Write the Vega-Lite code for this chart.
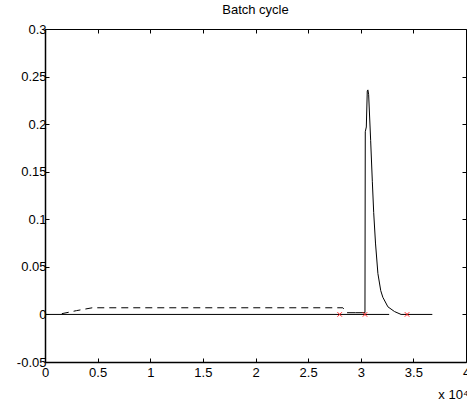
{
  "$schema": "https://vega.github.io/schema/vega-lite/v6.json",
  "width": 421,
  "height": 333,
  "autosize": "none",
  "padding": {"left": 45, "top": 29, "right": 1, "bottom": 41},
  "background": "white",
  "config": {
    "font": "Liberation Sans",
    "view": {"stroke": null},
    "axis": {
      "grid": false,
      "labelFont": "Liberation Sans",
      "labelFontSize": 13,
      "labelColor": "black",
      "domainColor": "black",
      "tickColor": "black",
      "tickSize": -4,
      "domainWidth": 1,
      "tickWidth": 1
    }
  },
  "title": {
    "text": "Batch cycle",
    "fontSize": 13,
    "fontWeight": "normal",
    "font": "Liberation Sans",
    "color": "black",
    "offset": 6
  },
  "datasets": {
    "lines": [
      {"series": "base", "x": 0, "y": 0},
      {"series": "base", "x": 3.27, "y": 0},
      {"series": "dash", "x": 0.16, "y": 0.0008},
      {"series": "dash", "x": 0.3, "y": 0.004},
      {"series": "dash", "x": 0.45, "y": 0.007},
      {"series": "dash", "x": 2.83, "y": 0.007},
      {"series": "dash", "x": 2.86, "y": 0.003},
      {"series": "peak", "x": 2.87, "y": 0.0018},
      {"series": "peak", "x": 2.95, "y": 0.0018},
      {"series": "peak", "x": 3.04, "y": 0.0018},
      {"series": "peak", "x": 3.043, "y": 0.192},
      {"series": "peak", "x": 3.053, "y": 0.197},
      {"series": "peak", "x": 3.062, "y": 0.235},
      {"series": "peak", "x": 3.068, "y": 0.236},
      {"series": "peak", "x": 3.075, "y": 0.231},
      {"series": "peak", "x": 3.094, "y": 0.183},
      {"series": "peak", "x": 3.11, "y": 0.14},
      {"series": "peak", "x": 3.123, "y": 0.107},
      {"series": "peak", "x": 3.14, "y": 0.075},
      {"series": "peak", "x": 3.163, "y": 0.043},
      {"series": "peak", "x": 3.19, "y": 0.025},
      {"series": "peak", "x": 3.21, "y": 0.018},
      {"series": "peak", "x": 3.258, "y": 0.008},
      {"series": "peak", "x": 3.321, "y": 0.003},
      {"series": "peak", "x": 3.383, "y": 0.0},
      {"series": "peak", "x": 3.68, "y": 0.0}
    ],
    "marks": [
      {"x": 2.8, "y": 0},
      {"x": 3.04, "y": 0},
      {"x": 3.44, "y": 0}
    ]
  },
  "layer": [
    {
      "data": {"name": "lines"},
      "transform": [{"filter": "datum.series === 'base' || datum.series === 'peak'"}],
      "mark": {"type": "line", "color": "black", "strokeWidth": 1},
      "encoding": {
        "x": {"field": "x", "type": "quantitative", "scale": {"domain": [0, 4], "nice": false, "zero": false},
              "axis": {"orient": "bottom", "values": [0, 0.5, 1, 1.5, 2, 2.5, 3, 3.5, 4], "labelPadding": 8, "labelFlush": false, "format": "~g",
                       "domainWidth": 1.5,
                       "title": "x 10⁴", "titleFont": "Liberation Sans", "titleFontSize": 13, "titleFontWeight": "normal", "titleColor": "black",
                       "titleAnchor": "end", "titleAlign": "right", "titleX": 423, "titleY": 36, "titleBaseline": "alphabetic"}},
        "y": {"field": "y", "type": "quantitative", "scale": {"domain": [-0.05, 0.3], "nice": false, "zero": false},
              "axis": {"orient": "left", "values": [-0.05, 0, 0.05, 0.1, 0.15, 0.2, 0.25, 0.3], "labelPadding": 3, "labelFlush": false, "title": null,
                       "domainWidth": 1.5,
                       "labelExpr": "(datum.value < 0 ? '-' : '') + format(abs(datum.value), '~g')"}},
        "detail": {"field": "series"}
      }
    },
    {
      "data": {"name": "lines"},
      "transform": [{"filter": "datum.series === 'dash'"}],
      "mark": {"type": "line", "color": "black", "strokeWidth": 1, "strokeDash": [7, 5]},
      "encoding": {
        "x": {"field": "x", "type": "quantitative",
              "axis": {"orient": "top", "values": [0, 0.5, 1, 1.5, 2, 2.5, 3, 3.5, 4], "labels": false, "title": null}},
        "y": {"field": "y", "type": "quantitative",
              "axis": {"orient": "right", "values": [-0.05, 0, 0.05, 0.1, 0.15, 0.2, 0.25, 0.3], "labels": false, "title": null}}
      }
    },
    {
      "data": {"name": "marks"},
      "mark": {"type": "point", "shape": "M-1,-1L1,1M-1,1L1,-1", "filled": false, "stroke": "#ff2020", "strokeWidth": 1, "size": 20, "opacity": 1},
      "encoding": {
        "x": {"field": "x", "type": "quantitative", "axis": null},
        "y": {"field": "y", "type": "quantitative", "axis": null}
      }
    }
  ],
  "resolve": {"axis": {"x": "independent", "y": "independent"}}
}
